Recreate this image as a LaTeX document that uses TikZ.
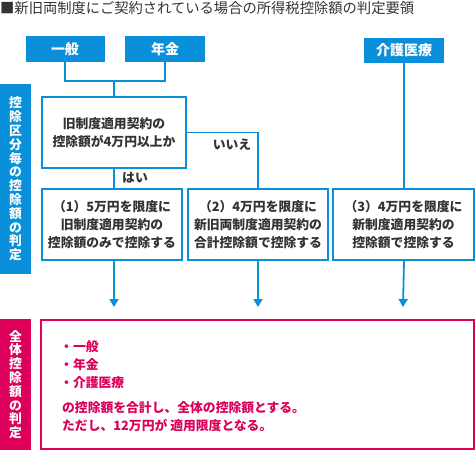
\documentclass[tikz,border=0pt]{standalone}
\usepackage{fontspec}
\setmainfont{Noto Sans CJK JP}
\usetikzlibrary{arrows.meta}
\definecolor{cblue}{HTML}{0A90DA}
\definecolor{cpink}{HTML}{DC005A}
\definecolor{ctext}{HTML}{333333}
\tikzset{
  hdrbox/.style={fill=cblue, text=white, inner sep=0pt, font=\fontsize{14}{16}\selectfont\bfseries},
  stepbox/.style={draw=cblue, line width=2.2pt, fill=white, inner sep=0pt, align=center, text=ctext,
     font=\fontsize{12.8}{18}\selectfont\bfseries},
  sidebar/.style={inner sep=0pt, text=white, align=center, minimum width=31pt,
     font=\fontsize{12.8}{13.8}\selectfont\bfseries},
  conn/.style={draw=cblue, line width=1.8pt},
  arr/.style={conn, -{Triangle[width=9pt,length=8pt]}},
  lbl/.style={inner sep=0pt, text=ctext, font=\fontsize{12.8}{15}\selectfont\bfseries},
  pinktext/.style={inner sep=0pt, text=cpink, align=left, font=\fontsize{12.8}{18}\selectfont\bfseries}
}
\begin{document}
\begin{tikzpicture}[x=1pt, y=-1pt]
\useasboundingbox (0,0) rectangle (475,450);
% title
\node[anchor=west, inner sep=0pt, text=ctext, font=\fontsize{14.3}{16}\selectfont] (title) at (0,8) {■新旧両制度にご契約されている場合の所得税控除額の判定要領};
% header boxes
\node[hdrbox, minimum width=79pt, minimum height=26pt] (ippan) at (65,49) {一般};
\node[hdrbox, minimum width=80pt, minimum height=26pt] (nenkin) at (165,49) {年金};
\node[hdrbox, minimum width=80pt, minimum height=25pt] (kaigo) at (404,50.5) {介護医療};
% side bars
\node[sidebar, fill=cblue, minimum height=190pt] (sideA) at (15.5,179) {控\\除\\区\\分\\毎\\の\\控\\除\\額\\の\\判\\定};
\node[sidebar, fill=cpink, minimum height=131pt] (sideB) at (15.5,384.5) {全\\体\\控\\除\\額\\の\\判\\定};
% question
\node[stepbox, minimum width=144pt, minimum height=71pt] (q) at (114,132.5) {旧制度適用契約の\\控除額が4万円以上か};
% result boxes
\node[stepbox, minimum width=140pt, minimum height=71pt] (b1) at (112,224.5) {（1）5万円を限度に\\旧制度適用契約の\\控除額のみで控除する};
\node[stepbox, minimum width=140pt, minimum height=71pt] (b2) at (258,224.5) {（2）4万円を限度に\\新旧両制度適用契約の\\合計控除額で控除する};
\node[stepbox, minimum width=141pt, minimum height=71pt] (b3) at (403.5,224.5) {（3）4万円を限度に\\新制度適用契約の\\控除額で控除する};
% connectors
\coordinate (j) at (114,81);
\draw[conn] (ippan.south) |- (j) -| (nenkin.south);
\draw[conn] (j) -- (q.north);
\draw[conn] (q.south) -- (q.south |- b1.north);
\draw[conn] (q.east) -| (b2.north);
\draw[conn] (kaigo.south) -- (kaigo.south |- b3.north);
\node[lbl] (yes) at (135,178) {はい};
\node[lbl] (no) at (232,145) {いいえ};
% arrows
\coordinate (t1) at (114,307);
\coordinate (t2) at (258,307);
\coordinate (t3) at (403,307);
\draw[arr] (q.south |- b1.south) -- (t1);
\draw[arr] (b2.south) -- (t2);
\draw[arr] (kaigo.south |- b3.south) -- (t3);
% pink box
\node[draw=cpink, line width=2.2pt, fill=white, minimum width=433pt, minimum height=129pt, inner sep=0pt] (total) at (257.5,384.5) {};
\node[pinktext, anchor=west] (bul) at (60,365) {・一般\\・年金\\・介護医療};
\node[pinktext, anchor=west] (para) at (62,417) {の控除額を合計し、全体の控除額とする。\\ただし、12万円が 適用限度となる。};
\end{tikzpicture}
\end{document}
